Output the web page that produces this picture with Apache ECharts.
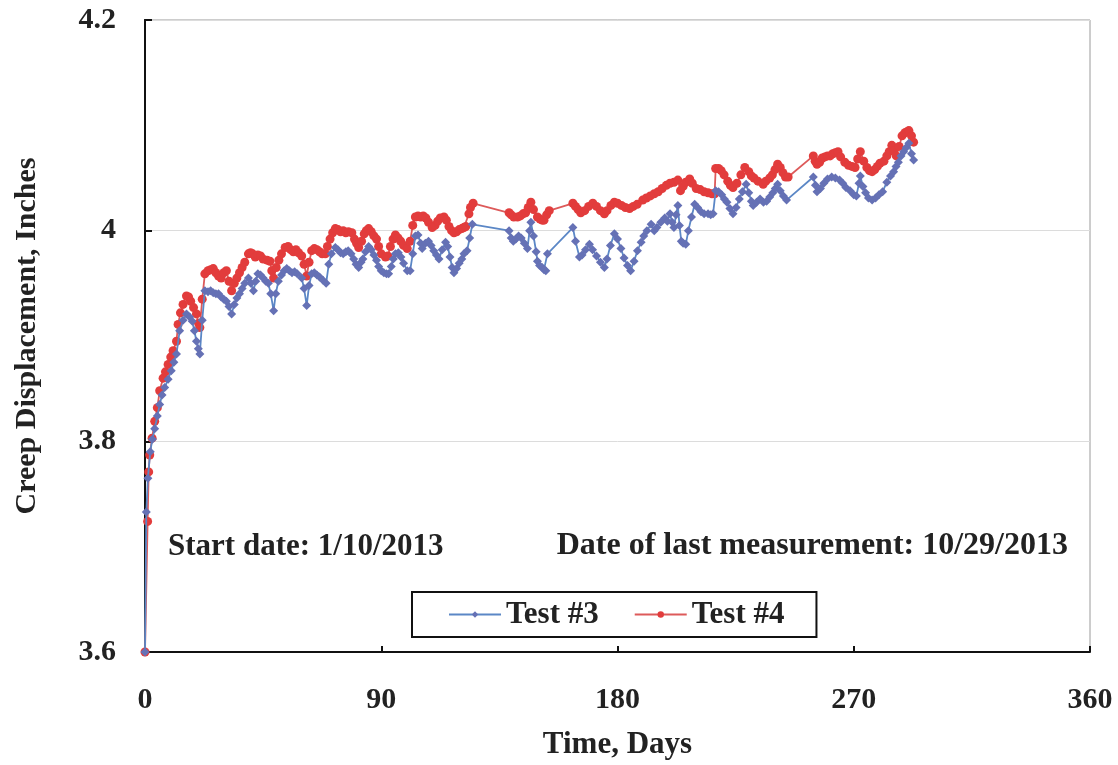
<!DOCTYPE html>
<html>
<head>
<meta charset="utf-8">
<script src="https://cdn.jsdelivr.net/npm/echarts@6/dist/echarts.min.js"></script>
<style>
html,body{margin:0;padding:0;background:#fff;}
#chart{width:1118px;height:765px;}
</style>
</head>
<body>
<div id="chart"></div>
<script>
const xTicks = [0, 90, 180, 270, 360];
const yTickLabels = ['3.6', '3.8', '4', '4.2'];

const test3Days = [0,0.5,1.1,2,2.8,3.7,4.7,5.6,6.5,7.5,8.8,10,11,12,13.2,14.5,15.8,17,18,18.8,19.6,20.3,20.9,21.8,22.8,24,25,26,27,28,29,30,31,32,33,34,35,36,37,38,39.4,40.3,41.3,42.2,43,44,45,46,47,47.9,49,49.8,50.8,52,53,54,55,56,57,58,59.7,60.6,61.6,62.5,63.5,64.5,65.5,66.5,67.8,69,70,71,72.5,73.5,74.5,75.5,76.5,77.4,78.5,79.5,80.4,81.4,82.3,83,84,85.2,86.2,87.2,88.2,89,90,91,92,92.8,93.8,94.6,95.4,96.5,97.5,98.5,99.9,101,102,103,104,105,105.6,106.8,108,109,110,111,112,113.2,114.5,115.3,116.2,117,117.7,118.7,119.7,120.7,121.5,122.7,123.7,124.7,138.7,139.5,140.3,141.3,142.3,143.3,144.5,145.7,146.5,147,148,149,149.5,150.3,151.3,152,152.7,153.3,163,164,165.5,166.5,167.8,169.3,170.5,172,173.5,175,176,177.3,178.8,180,181.3,182.5,183.8,185,186.3,187.6,189,190,191.2,192.8,194,195,196.5,198,199,200,200.8,201.5,202.3,203,203.6,204.3,205,206,207,208.2,209.4,210.5,211.8,213,214.5,215.5,216.4,217.4,218.5,219.7,220.7,221.7,222.8,224,225.2,226.4,227.6,229,230,231,231.7,233,234.3,235.6,236.8,238,239.2,240.1,241,242,243.2,244.4,254.6,255.4,256,257.3,258.6,260,261.6,263,264.6,265.8,267,268.6,270,271,272,272.5,273.5,274.5,275.6,277,278.3,279.6,281,282.6,284,285.2,286.1,287,288,289,290,291,292,292.8];
const test3Values = [3.600,3.733,3.765,3.790,3.802,3.812,3.824,3.835,3.844,3.851,3.859,3.867,3.875,3.883,3.905,3.915,3.921,3.918,3.914,3.905,3.895,3.888,3.883,3.915,3.943,3.942,3.943,3.941,3.940,3.940,3.937,3.935,3.933,3.928,3.921,3.930,3.936,3.940,3.945,3.950,3.955,3.950,3.943,3.952,3.959,3.958,3.955,3.952,3.950,3.940,3.924,3.940,3.952,3.958,3.962,3.964,3.962,3.960,3.961,3.959,3.955,3.945,3.929,3.948,3.959,3.960,3.958,3.956,3.953,3.950,3.968,3.978,3.984,3.982,3.979,3.978,3.980,3.981,3.978,3.973,3.968,3.965,3.970,3.973,3.980,3.985,3.982,3.977,3.972,3.966,3.962,3.960,3.959,3.959,3.966,3.973,3.978,3.979,3.975,3.969,3.962,3.962,3.978,3.995,3.996,3.988,3.983,3.988,3.990,3.986,3.981,3.977,3.973,3.982,3.989,3.985,3.975,3.965,3.960,3.964,3.969,3.973,3.978,3.981,3.993,4.006,4.000,3.993,3.990,3.992,3.995,3.993,3.988,3.983,4.000,4.008,3.995,3.980,3.971,3.967,3.965,3.963,3.962,3.978,4.003,3.990,3.975,3.977,3.982,3.987,3.982,3.976,3.970,3.965,3.973,3.986,3.997,3.992,3.983,3.974,3.967,3.962,3.971,3.981,3.989,3.995,4.000,4.006,4.000,4.003,4.008,4.012,4.009,4.016,4.008,4.003,4.015,4.024,4.005,3.990,3.988,3.987,4.000,4.013,4.025,4.022,4.018,4.016,4.016,4.015,4.016,4.038,4.037,4.034,4.030,4.027,4.021,4.016,4.022,4.030,4.037,4.044,4.036,4.028,4.024,4.027,4.030,4.027,4.028,4.032,4.036,4.040,4.044,4.038,4.033,4.029,4.051,4.043,4.037,4.040,4.045,4.049,4.051,4.050,4.048,4.045,4.041,4.038,4.034,4.033,4.045,4.052,4.042,4.036,4.031,4.029,4.031,4.034,4.037,4.046,4.052,4.056,4.061,4.065,4.071,4.075,4.079,4.083,4.073,4.067];

const test4Days = [0,1,1.4,1.8,2.7,3.7,4.7,5.6,6.9,7.8,8.8,9.8,10.7,12,12.6,13.5,14.5,15.8,16.6,17.4,18.5,19.6,20.4,20.9,21.8,22.8,24,25,26,27,28,29,30,31,32,33,34,35,36,37,38,39.4,40.2,41,42,43,44,45,46.5,47.6,48.3,49,50,51,52,53.4,54.5,55.5,56.5,57.5,58.5,59.7,60.6,61.6,62.5,63.5,64.5,65.5,66.5,67.5,68.7,69.5,70.5,71.5,72.5,73.5,74.5,75.5,76.5,77.5,78.8,79.8,80.6,81.4,82.5,83.5,84.3,85.2,86.2,87.2,88.2,89,90,91.6,92.5,93.5,94.5,95.4,96.4,97.4,98.5,99.9,101,102,103,104,105,106,107,108,109.4,110.5,111.5,112.5,113.9,114.8,115.8,116.8,117.7,118.7,119.7,120.7,121.5,122.2,123.4,124,125,138.7,139.5,140.5,141.9,143,144,145,146,147,148,149.5,150.5,151.3,152,153,154,163,164,165,166,167.5,169,170.6,172,173.5,175,176,177.5,178.8,180,181.5,183,184.6,186,187.5,189.6,191,192.5,194,195.5,197,198.6,200,201.5,203,204,205,206,207.5,208.5,210,211.5,213,214.5,216,217,217.4,218.5,219.5,220.6,222,223,224,225.5,227,228.5,230,231,232,233.5,235.5,236.5,238,239,240,241,242,243,244,245,254.6,255.3,256,257,258,259,260,261,262,263,264,265,266.6,268,269.3,270.5,271.5,272.5,273.8,275,276,277,278,279,280,281.5,282.6,283.5,284.5,285.3,286.2,287.3,288.4,289.5,290.3,291,292,292.8];
const test4Values = [3.600,3.724,3.771,3.787,3.803,3.819,3.832,3.848,3.860,3.866,3.873,3.880,3.886,3.895,3.911,3.922,3.930,3.938,3.937,3.933,3.927,3.921,3.912,3.908,3.935,3.959,3.962,3.963,3.964,3.960,3.957,3.955,3.960,3.962,3.952,3.943,3.950,3.955,3.960,3.965,3.970,3.978,3.979,3.978,3.975,3.977,3.976,3.973,3.972,3.971,3.962,3.955,3.965,3.972,3.978,3.984,3.985,3.982,3.980,3.982,3.979,3.976,3.968,3.957,3.970,3.981,3.983,3.982,3.980,3.978,3.978,3.985,3.992,3.998,4.002,4.001,3.999,4.000,3.998,3.999,3.998,3.992,3.988,3.984,3.990,3.997,4.000,4.002,3.999,3.995,3.992,3.985,3.978,3.975,3.976,3.985,3.992,3.996,3.993,3.990,3.986,3.983,3.990,4.005,4.013,4.014,4.013,4.014,4.012,4.008,4.003,4.005,4.009,4.012,4.013,4.010,4.004,4.000,3.998,3.999,4.001,4.002,4.003,4.004,4.016,4.022,4.026,4.017,4.015,4.013,4.013,4.014,4.016,4.017,4.022,4.027,4.020,4.013,4.011,4.010,4.010,4.015,4.019,4.026,4.023,4.020,4.017,4.019,4.023,4.026,4.023,4.019,4.016,4.019,4.024,4.027,4.026,4.024,4.022,4.021,4.023,4.025,4.029,4.031,4.033,4.035,4.037,4.040,4.043,4.045,4.046,4.048,4.038,4.042,4.046,4.049,4.045,4.040,4.039,4.037,4.036,4.035,4.035,4.059,4.059,4.057,4.053,4.047,4.043,4.041,4.045,4.053,4.060,4.056,4.052,4.050,4.047,4.044,4.047,4.050,4.053,4.058,4.063,4.060,4.055,4.051,4.051,4.071,4.066,4.063,4.065,4.069,4.070,4.071,4.071,4.073,4.074,4.075,4.070,4.065,4.062,4.061,4.060,4.068,4.075,4.066,4.060,4.057,4.056,4.058,4.061,4.064,4.066,4.071,4.075,4.081,4.076,4.071,4.080,4.090,4.093,4.094,4.095,4.090,4.084];

const seriesNames = ['Test #3', 'Test #4'];
const annotations = ['Start date: 1/10/2013', 'Date of last measurement: 10/29/2013'];

const FONT = '"Liberation Serif", "Times New Roman", serif';
const pair = (d, v) => d.map((x, i) => [x, v[i]]);

const chart = echarts.init(document.getElementById('chart'), null, {renderer: 'canvas'});
chart.setOption({
  backgroundColor: '#ffffff',
  animation: false,
  grid: {left: 145, right: 28, top: 20, bottom: 113, show: true, borderColor: '#9a9a9a', borderWidth: 1},
  xAxis: {
    type: 'value', min: xTicks[0], max: xTicks[xTicks.length - 1], interval: 90,
    name: 'Time, Days', nameLocation: 'middle', nameGap: 77,
    nameTextStyle: {fontFamily: FONT, fontSize: 31, fontWeight: 'bold', color: '#222'},
    axisLine: {show: true, onZero: false, lineStyle: {color: '#111', width: 2}},
    axisTick: {show: true, inside: true, length: 6, lineStyle: {color: '#111', width: 2}},
    axisLabel: {margin: 33, fontFamily: FONT, fontSize: 30, fontWeight: 'bold', color: '#222'},
    splitLine: {show: false}
  },
  yAxis: [{
    type: 'value', min: 3.6, max: 4.2, interval: 0.2,
    name: 'Creep Displacement, Inches', nameLocation: 'middle', nameGap: 103,
    nameTextStyle: {fontFamily: FONT, fontSize: 30, fontWeight: 'bold', color: '#222'},
    axisLine: {show: true, onZero: false, lineStyle: {color: '#111', width: 2}},
    axisTick: {show: true, inside: true, length: 7, lineStyle: {color: '#111', width: 2}},
    axisLabel: {margin: 29, fontFamily: FONT, fontSize: 30, fontWeight: 'bold', color: '#222',
      formatter: v => yTickLabels[Math.round((v - 3.6) / 0.2)]},
    splitLine: {show: true, lineStyle: {color: '#dcdcdc', width: 1}}
  }, {
    type: 'value', min: 3.6, max: 4.2, interval: 0.2, position: 'right',
    axisLine: {show: true, lineStyle: {color: '#111', width: 2}},
    axisTick: {show: false}, axisLabel: {show: false}, splitLine: {show: false}
  }],
  legend: {
    left: 412, top: 592,
    orient: 'horizontal',
    padding: [7, 32, 7, 36],
    itemGap: 35, itemWidth: 52, itemHeight: 8,
    backgroundColor: '#fff',
    borderColor: '#111', borderWidth: 2,
    textStyle: {fontFamily: FONT, fontSize: 31, fontWeight: 'bold', color: '#222'},
    data: seriesNames
  },
  graphic: [
    {type: 'text', left: 168, top: 531, style: {text: annotations[0], font: 'bold 31px ' + FONT, fill: '#222'}},
    {type: 'text', right: 50, top: 530, style: {text: annotations[1], font: 'bold 32px ' + FONT, fill: '#222'}}
  ],
  series: [{
    name: seriesNames[0], type: 'line', data: pair(test3Days, test3Values),
    symbol: 'diamond', symbolSize: 9, showAllSymbol: true,
    lineStyle: {color: '#5b87c6', width: 1.8},
    itemStyle: {color: '#6571b5'},
    clip: true, z: 3
  }, {
    name: seriesNames[1], type: 'line', data: pair(test4Days, test4Values),
    symbol: 'circle', symbolSize: 9, showAllSymbol: true,
    lineStyle: {color: '#dd5a5a', width: 1.8},
    itemStyle: {color: '#e23c3c'},
    clip: true, z: 2
  }]
});
</script>
</body>
</html>
